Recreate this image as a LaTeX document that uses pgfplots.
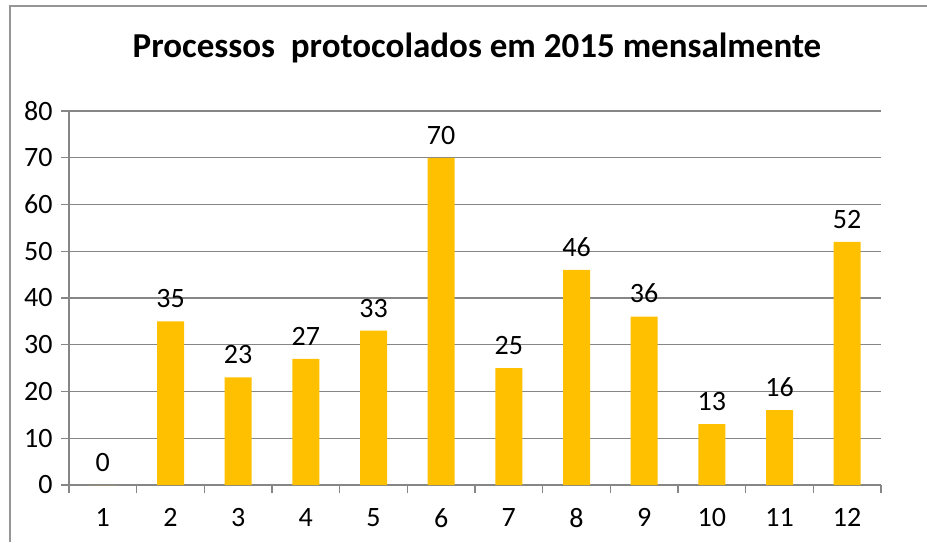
\documentclass[border=0pt]{standalone}
\usepackage{fontspec}
\setmainfont{Carlito}
\usepackage{pgfplots}
\pgfplotsset{compat=1.18}
\definecolor{axgray}{RGB}{134,134,134}
\definecolor{bordergray}{RGB}{150,150,150}
\definecolor{baryellow}{RGB}{255,192,0}
\begin{document}
\begin{tikzpicture}[x=1pt,y=1pt]
\useasboundingbox (0,0) rectangle (927,542);
\draw[bordergray,line width=1.2pt] (10,0) -- (10,536) -- (927,536);
\node[font=\fontsize{35}{42}\selectfont\bfseries] at (477,494) {Processos\ \ protocolados em 2015 mensalmente};
\begin{axis}[
  at={(69pt,57pt)}, anchor=origin,
  scale only axis, width=812pt, height=374pt,
  xmin=0.5, xmax=12.5, ymin=0, ymax=80,
  axis x line*=bottom, axis y line*=left,
  axis line style={axgray, line width=1.2pt},
  xtick={1,...,12},
  minor xtick={0.5,1.5,...,12.5},
  major x tick style={draw=none},
  minor x tick style={axgray, line width=1.2pt},
  minor tick length=8pt,
  ytick={0,10,...,80},
  major tick length=8pt,
  tick align=outside,
  y tick style={axgray, line width=1.2pt},
  ymajorgrids, grid style={axgray, line width=1.2pt},
  tick label style={font=\fontsize{28}{33}\selectfont},
  /pgf/number format/assume math mode=true,
  xticklabel style={yshift=-12pt},
  yticklabel style={xshift=-5pt},
  ybar, bar width=27pt,
  nodes near coords,
  every node near coord/.append style={font=\fontsize{28}{33}\selectfont, black, yshift=10pt},
]
\addplot[fill=baryellow, draw=none] coordinates {
(1,0) (2,35) (3,23) (4,27) (5,33) (6,70) (7,25) (8,46) (9,36) (10,13) (11,16) (12,52)};
\end{axis}
\end{tikzpicture}
\end{document}
